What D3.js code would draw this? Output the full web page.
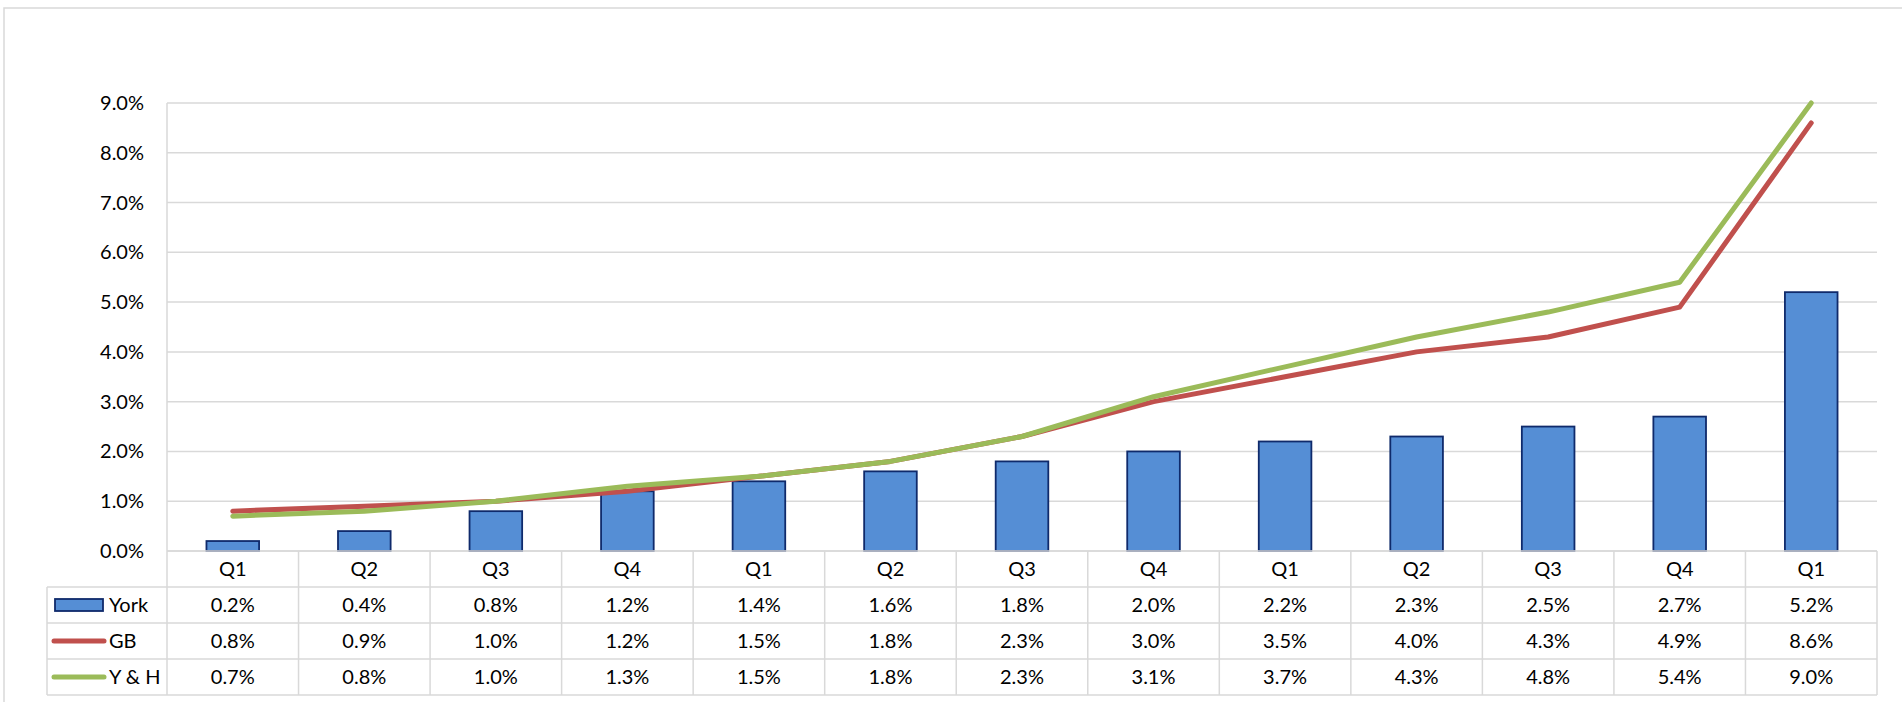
<!DOCTYPE html>
<html>
<head>
<meta charset="utf-8">
<script src="https://cdn.jsdelivr.net/npm/d3@7"></script>
<style>
  body { margin: 0; background: #fff; }
  text { font-family: Lato, "Open Sans", sans-serif; fill: #000; }
</style>
</head>
<body>
<div id="chart"></div>
<script>
// datos
const quarters = ["Q1", "Q2", "Q3", "Q4", "Q1", "Q2", "Q3", "Q4", "Q1", "Q2", "Q3", "Q4", "Q1"];
const york = [0.2, 0.4, 0.8, 1.2, 1.4, 1.6, 1.8, 2.0, 2.2, 2.3, 2.5, 2.7, 5.2];
const gb = [0.8, 0.9, 1.0, 1.2, 1.5, 1.8, 2.3, 3.0, 3.5, 4.0, 4.3, 4.9, 8.6];
const yh = [0.7, 0.8, 1.0, 1.3, 1.5, 1.8, 2.3, 3.1, 3.7, 4.3, 4.8, 5.4, 9.0];
const yTicks = [0, 1, 2, 3, 4, 5, 6, 7, 8, 9];

const width = 1902, height = 702;
const plotLeft = 167, plotRight = 1877, plotTop = 103, plotBottom = 551;
const rowH = 36, legendLeft = 47;
const grid = "#d9d9d9";

const svg = d3.select("#chart").append("svg")
    .attr("width", width)
    .attr("height", height);

// borde exterior
svg.append("rect")
    .attr("x", 4).attr("y", 8)
    .attr("width", width + 10).attr("height", height + 10)
    .attr("fill", "none").attr("stroke", grid).attr("stroke-width", 1.5);

let x = d3.scaleBand().domain(d3.range(quarters.length)).range([plotLeft, plotRight]).padding(0);
let y = d3.scaleLinear().domain([0, 9]).range([plotBottom, plotTop]);

// rejilla
svg.selectAll(".grid")
    .data(yTicks)
    .enter()
    .append("line")
    .attr("x1", plotLeft).attr("x2", plotRight)
    .attr("y1", d => y(d)).attr("y2", d => y(d))
    .attr("stroke", grid).attr("stroke-width", 1.5);

svg.append("line")
    .attr("x1", plotLeft).attr("x2", plotLeft)
    .attr("y1", plotTop).attr("y2", plotBottom + rowH * 4)
    .attr("stroke", grid).attr("stroke-width", 1.5);

// eje y
svg.selectAll(".ylab")
    .data(yTicks)
    .enter()
    .append("text")
    .attr("x", 144)
    .attr("y", d => y(d))
    .attr("dy", "0.35em")
    .attr("text-anchor", "end")
    .style("font-size", "20px")
    .text(d => d.toFixed(1) + "%");

// barras York
const barW = x.bandwidth() * 0.4;
svg.selectAll(".bar")
    .data(york)
    .enter()
    .append("rect")
    .attr("x", (d, i) => x(i) + (x.bandwidth() - barW) / 2)
    .attr("y", d => y(d))
    .attr("width", barW)
    .attr("height", d => y(0) - y(d))
    .attr("fill", "#558ed5")
    .attr("stroke", "#0f2a6b")
    .attr("stroke-width", 1.8);

// lineas
let line = d3.line()
    .x((d, i) => x(i) + x.bandwidth() / 2)
    .y(d => y(d));

svg.append("path").datum(gb)
    .attr("d", line)
    .attr("fill", "none").attr("stroke", "#c0504d")
    .attr("stroke-width", 5).attr("stroke-linecap", "round").attr("stroke-linejoin", "round");

svg.append("path").datum(yh)
    .attr("d", line)
    .attr("fill", "none").attr("stroke", "#9bbb59")
    .attr("stroke-width", 5).attr("stroke-linecap", "round").attr("stroke-linejoin", "round");

// tabla de datos
const rows = [
    {name: "York", values: york},
    {name: "GB", values: gb},
    {name: "Y & H", values: yh}
];

// horizontales
svg.append("line")
    .attr("x1", plotLeft).attr("x2", plotRight)
    .attr("y1", plotBottom).attr("y2", plotBottom)
    .attr("stroke", grid).attr("stroke-width", 1.5);
for(let r = 1; r <= 4; r++) {
    svg.append("line")
        .attr("x1", legendLeft).attr("x2", plotRight)
        .attr("y1", plotBottom + rowH * r).attr("y2", plotBottom + rowH * r)
        .attr("stroke", grid).attr("stroke-width", 1.5);
}
// verticales
svg.append("line")
    .attr("x1", legendLeft).attr("x2", legendLeft)
    .attr("y1", plotBottom + rowH).attr("y2", plotBottom + rowH * 4)
    .attr("stroke", grid).attr("stroke-width", 1.5);
svg.selectAll(".vcell")
    .data(d3.range(1, quarters.length + 1))
    .enter()
    .append("line")
    .attr("x1", d => d < quarters.length ? x(d) : plotRight)
    .attr("x2", d => d < quarters.length ? x(d) : plotRight)
    .attr("y1", plotBottom).attr("y2", plotBottom + rowH * 4)
    .attr("stroke", grid).attr("stroke-width", 1.5);

// cabecera
svg.selectAll(".qlab")
    .data(quarters)
    .enter()
    .append("text")
    .attr("x", (d, i) => x(i) + x.bandwidth() / 2)
    .attr("y", plotBottom + rowH / 2)
    .attr("dy", "0.35em")
    .attr("text-anchor", "middle")
    .style("font-size", "20px")
    .text(d => d);

rows.forEach(function(row, r) {
    let cy = plotBottom + rowH * (r + 1) + rowH / 2;
    svg.selectAll(".val" + r)
        .data(row.values)
        .enter()
        .append("text")
        .attr("x", (d, i) => x(i) + x.bandwidth() / 2)
        .attr("y", cy)
        .attr("dy", "0.35em")
        .attr("text-anchor", "middle")
        .style("font-size", "20px")
        .text(d => d.toFixed(1) + "%");

    svg.append("text")
        .attr("x", 109)
        .attr("y", cy)
        .attr("dy", "0.35em")
        .style("font-size", "20px")
        .text(row.name);
});

// simbolos de leyenda
svg.append("rect")
    .attr("x", 55).attr("y", plotBottom + rowH * 1.5 - 6)
    .attr("width", 48).attr("height", 12)
    .attr("fill", "#558ed5").attr("stroke", "#0f2a6b").attr("stroke-width", 1.8);
svg.append("line")
    .attr("x1", 54).attr("x2", 104)
    .attr("y1", plotBottom + rowH * 2.5).attr("y2", plotBottom + rowH * 2.5)
    .attr("stroke", "#c0504d").attr("stroke-width", 5).attr("stroke-linecap", "round");
svg.append("line")
    .attr("x1", 54).attr("x2", 104)
    .attr("y1", plotBottom + rowH * 3.5).attr("y2", plotBottom + rowH * 3.5)
    .attr("stroke", "#9bbb59").attr("stroke-width", 5).attr("stroke-linecap", "round");
</script>
</body>
</html>
